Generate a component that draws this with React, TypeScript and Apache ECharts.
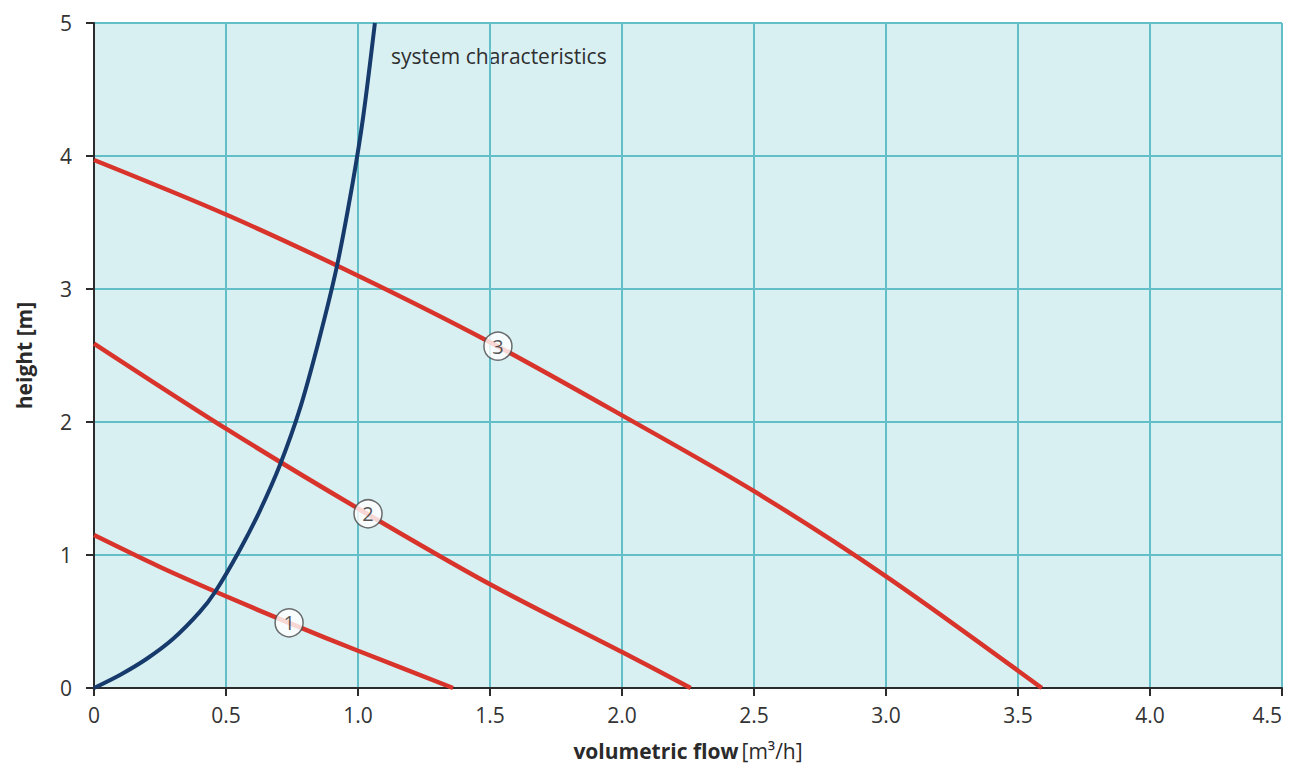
import React, { useEffect, useRef } from "react";
import * as echarts from "echarts";

const xTicks = [0, 0.5, 1.0, 1.5, 2.0, 2.5, 3.0, 3.5, 4.0, 4.5];
const yTicks = [0, 1, 2, 3, 4, 5];

const systemCurve: [number, number][] = [
  [0, 0], [0.1, 0.1], [0.2, 0.22], [0.3, 0.37], [0.4, 0.57], [0.458, 0.72],
  [0.55, 1.03], [0.63, 1.34], [0.705, 1.68], [0.78, 2.1], [0.85, 2.6],
  [0.92, 3.17], [0.98, 3.8], [1.02, 4.3], [1.064, 5.0],
];
const pump1: [number, number][] = [
  [0, 1.15], [0.25, 0.91], [0.5, 0.69], [0.75, 0.48], [1.0, 0.28], [1.36, 0],
];
const pump2: [number, number][] = [
  [0, 2.59], [0.5, 1.95], [1.0, 1.35], [1.5, 0.78], [2.0, 0.27], [2.26, 0],
];
const pump3: [number, number][] = [
  [0, 3.97], [0.5, 3.56], [1.0, 3.1], [1.5, 2.6], [2.0, 2.05], [2.5, 1.48],
  [3.0, 0.84], [3.59, 0],
];
const markerLabels = ["1", "2", "3"];
const markerPoints: [number, number][] = [[0.739, 0.49], [1.038, 1.31], [1.53, 2.57]];

const FONT = "'Open Sans', 'Noto Sans', sans-serif";

export default function App() {
  const ref = useRef<HTMLDivElement>(null);
  useEffect(() => {
    if (!ref.current) return;
    const chart = echarts.init(ref.current, null, { renderer: "svg" });
    const red = "#d9342b";
    chart.setOption({
      animation: false,
      backgroundColor: "#ffffff",
      textStyle: { fontFamily: FONT },
      grid: {
        left: 94, right: 12, top: 23, bottom: 87,
        outerBoundsMode: "none", containLabel: false,
        show: true, backgroundColor: "#d9f0f3", borderWidth: 0,
      },
      xAxis: {
        type: "value", min: 0, max: 4.5, interval: 0.5,
        name: "{b|volumetric flow} {n|[m³/h]}",
        nameLocation: "middle", nameGap: 52,
        nameTextStyle: {
          rich: {
            b: { fontFamily: FONT, fontSize: 21, fontWeight: "bold", color: "#2a2a2a" },
            n: { fontFamily: FONT, fontSize: 21, color: "#2a2a2a" },
          },
        },
        axisLine: { show: true, onZero: false, lineStyle: { color: "#2b2b2b", width: 2 } },
        axisTick: { show: true, length: 8, lineStyle: { color: "#2b2b2b", width: 2 } },
        axisLabel: {
          margin: 16, fontSize: 21, color: "#333", fontFamily: FONT,
          alignMaxLabel: "right",
          formatter: (v: number) => (v === 0 ? "0" : xTicks.includes(v) ? v.toFixed(1) : ""),
        },
        splitLine: { show: true, lineStyle: { color: "#63bfc7", width: 2 } },
      },
      yAxis: {
        type: "value", min: 0, max: 5, interval: 1,
        name: "height [m]", nameLocation: "middle", nameGap: 60, nameRotate: 90,
        nameTextStyle: { fontFamily: FONT, fontSize: 21, fontWeight: "bold", color: "#2a2a2a" },
        axisLine: { show: true, lineStyle: { color: "#2b2b2b", width: 2 } },
        axisTick: { show: true, length: 8, lineStyle: { color: "#2b2b2b", width: 2 } },
        axisLabel: {
          margin: 22, fontSize: 21, color: "#333", fontFamily: FONT,
          formatter: (v: number) => (yTicks.includes(v) ? String(v) : ""),
        },
        splitLine: { show: true, lineStyle: { color: "#63bfc7", width: 2 } },
      },
      graphic: [
        {
          type: "text", left: 391, top: 45,
          style: { text: "system characteristics", fontSize: 21, fontFamily: FONT, fill: "#2f2f2f" },
        },
      ],
      series: [
        { type: "line", data: pump1, smooth: 0.3, showSymbol: false, lineStyle: { color: red, width: 4.5 }, z: 3 },
        { type: "line", data: pump2, smooth: 0.3, showSymbol: false, lineStyle: { color: red, width: 4.5 }, z: 3 },
        { type: "line", data: pump3, smooth: 0.3, showSymbol: false, lineStyle: { color: red, width: 4.5 }, z: 3 },
        { type: "line", data: systemCurve, smooth: 0.3, showSymbol: false, lineStyle: { color: "#163a6b", width: 4 }, z: 4 },
        {
          type: "scatter",
          data: markerPoints.map((p, i) => ({ value: p, name: markerLabels[i] })),
          symbol: "circle", symbolSize: 28, z: 5,
          itemStyle: { color: "#ffffff", borderColor: "#4a4a4a", borderWidth: 1.5 },
          label: {
            show: true, position: "inside", formatter: (p: any) => p.name,
            fontSize: 20, color: "#2a2a2a", fontFamily: FONT,
          },
        },
      ],
    });
    return () => chart.dispose();
  }, []);
  return (
    <div
      ref={ref}
      style={{ position: "fixed", left: 0, top: 0, width: 1294, height: 775 }}
    />
  );
}
